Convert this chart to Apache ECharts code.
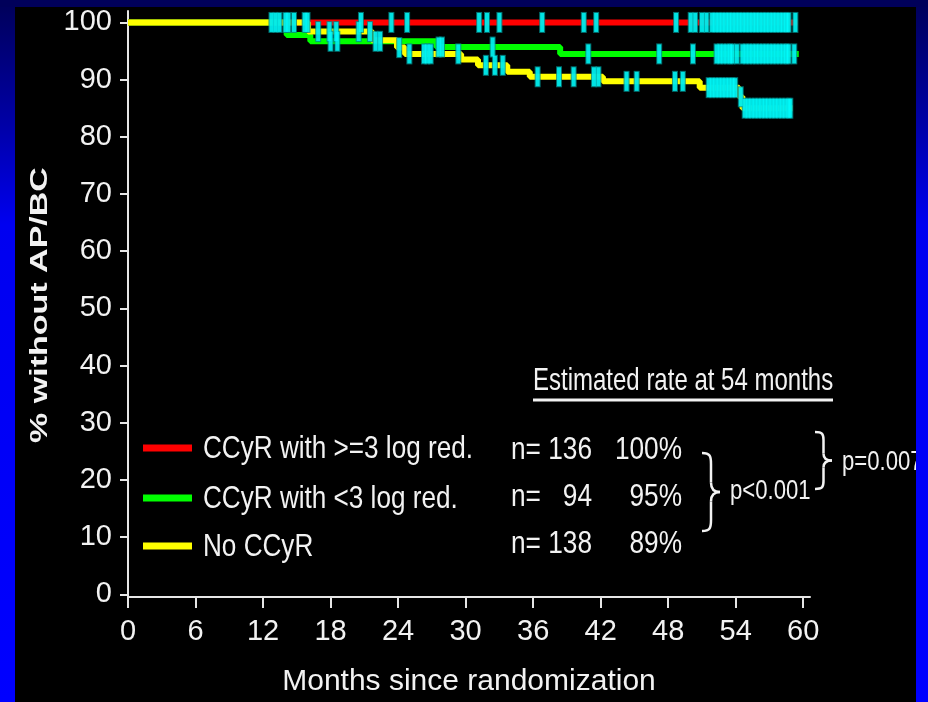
<!DOCTYPE html>
<html>
<head>
<meta charset="utf-8">
<style>
  html, body { margin: 0; padding: 0; background: #000; }
  #chart { width: 928px; height: 702px; }
</style>
<script src="https://cdn.jsdelivr.net/npm/echarts@6/dist/echarts.min.js"></script>
</head>
<body>
<div id="chart"></div>
<script>
// ---------- data ----------
const seriesNames = ['CCyR with >=3 log red.', 'CCyR with <3 log red.', 'No CCyR'];
const seriesColors = ['#ff0000', '#00ff00', '#ffff00'];
const xTicks = [0, 6, 12, 18, 24, 30, 36, 42, 48, 54, 60];
const yTicks = [0, 10, 20, 30, 40, 50, 60, 70, 80, 90, 100];

// Kaplan-Meier steps: [month, % without AP/BC from this month on]
const redSteps = [[0, 100], [59.5, 100]];
const greenSteps = [[0, 100], [14.1, 97.8], [16.2, 96.7], [27.4, 95.7], [38.4, 94.5], [59.6, 94.5]];
const yellowSteps = [[0, 100], [16.0, 98.4], [21.7, 96.9], [23.9, 95.6], [24.6, 94.5], [29.6, 93.5],
  [31.1, 92.5], [33.7, 91.4], [35.7, 90.5], [42.2, 89.7], [50.8, 88.6], [54.3, 87.0], [54.6, 85.0], [59.05, 85.0]];

// censored observations (months)
const redCensor = [20.7, 23.4, 24.8, 31.2, 31.9, 33.0, 36.8, 40.5, 41.6, 48.7, 50.0, 50.4, 51.0, 51.4,
  51.9, 52.2, 52.5, 52.8, 53.1, 53.4, 53.7, 54.0, 54.3, 54.6, 54.9, 55.2, 55.5, 55.8, 56.1, 56.4,
  56.7, 57.0, 57.3, 57.6, 57.9, 58.2, 58.5, 58.7, 59.3];
const greenCensor = [18.0, 18.6, 22.0, 22.4, 27.6, 27.9, 32.4, 40.9, 47.2, 50.2, 52.3, 52.6, 52.9,
  53.2, 53.5, 53.7, 54.1, 54.6, 54.9, 55.2, 55.5, 55.8, 56.1, 56.4, 56.7, 57.0, 57.3, 57.6, 57.9,
  58.2, 58.5, 58.7, 59.2];
const yellowCensor = [12.75, 13.1, 13.45, 14.0, 14.25, 14.75, 15.7, 15.95, 16.9, 17.9, 18.5, 20.5,
  21.5, 24.1, 25.0, 26.3, 26.6, 26.9, 29.35, 31.8, 32.6, 33.3, 36.4, 38.3, 39.6, 41.4, 41.8, 44.3,
  45.2, 48.6, 49.3, 51.6, 51.9, 52.2, 52.5, 52.8, 53.1, 53.4, 53.7, 53.95, 54.45, 54.8, 55.1, 55.4,
  55.7, 56.0, 56.3, 56.6, 56.9, 57.2, 57.5, 57.8, 58.1, 58.4, 58.7, 58.85];

const nLabels = ['n= 136', 'n=   94', 'n= 138'];
const rateLabels = ['100%', '95%', '89%'];
const tableTitle = 'Estimated rate at 54 months';
const pLabels = ['p<0.001', 'p=0.007'];
const yTitle = '% without AP/BC';
const xTitle = 'Months since randomization';

// ---------- helpers ----------
function valueAt(steps, t) {
  let v = steps[0][1];
  for (const s of steps) { if (s[0] <= t) v = s[1]; }
  return v;
}
const allMarks = []
  .concat(redCensor.map(t => [t, valueAt(redSteps, t)]))
  .concat(greenCensor.map(t => [t, valueAt(greenSteps, t)]))
  .concat(yellowCensor.map(t => [t, valueAt(yellowSteps, t)]));

const SANS = '"Liberation Sans", Arial, Helvetica, sans-serif';
const TXT = '#f2f2f2';
const AX = '#e6e6e6';

function txt(text, x, y, size, align, sx) {
  return { type: 'text', x: x, y: y, z: 10, silent: true, scaleX: sx || 0.82,
    style: { text: text, fill: TXT, fontSize: size, fontFamily: SANS, align: align || 'left', verticalAlign: 'middle' } };
}

function brace(x, y0, w, h) {
  const P = (a, b) => [x + w * a, y0 + h * b];
  const st = { stroke: TXT, lineWidth: 2.5, fill: null };
  const bz = (p1, c1, c2, p2) => ({ type: 'bezierCurve', z: 10, silent: true,
    shape: { x1: p1[0], y1: p1[1], cpx1: c1[0], cpy1: c1[1], cpx2: c2[0], cpy2: c2[1], x2: p2[0], y2: p2[1] }, style: st });
  const ln = (p1, p2) => ({ type: 'line', z: 10, silent: true,
    shape: { x1: p1[0], y1: p1[1], x2: p2[0], y2: p2[1] }, style: st });
  return [
    bz(P(0, 0), P(0.45, 0), P(0.5, 0.04), P(0.5, 0.14)),
    ln(P(0.5, 0.14), P(0.5, 0.38)),
    bz(P(0.5, 0.38), P(0.5, 0.46), P(0.65, 0.5), P(1, 0.5)),
    bz(P(1, 0.5), P(0.65, 0.5), P(0.5, 0.54), P(0.5, 0.62)),
    ln(P(0.5, 0.62), P(0.5, 0.86)),
    bz(P(0.5, 0.86), P(0.5, 0.96), P(0.45, 1), P(0, 1))
  ];
}

const legendRowsY = [448, 498, 546];
const legendEls = [];
seriesNames.forEach((n, i) => {
  legendEls.push({ type: 'rect', z: 10, silent: true,
    shape: { x: 143, y: legendRowsY[i] - 3.5, width: 49, height: 7 }, style: { fill: seriesColors[i] } });
  legendEls.push(txt(n, 203, legendRowsY[i] + 1, 32, 'left', 0.816));
});

const chart = echarts.init(document.getElementById('chart'), null, { renderer: 'canvas' });
const sideGrad = { type: 'linear', x: 0, y: 0, x2: 0, y2: 1, colorStops: [
  { offset: 0, color: '#000058' }, { offset: 0.18, color: '#0000a8' },
  { offset: 0.32, color: '#0000f0' }, { offset: 1, color: '#0000ff' }] };

chart.setOption({
  animation: false,
  backgroundColor: '#000000',
  grid: { left: 128, top: 11, right: 118, bottom: 103.6, containLabel: false },
  xAxis: {
    type: 'value', min: 0, max: 60.6,
    name: xTitle, nameLocation: 'middle', nameGap: 70,
    nameTextStyle: { color: TXT, fontSize: 30, fontFamily: SANS },
    axisLine: { show: true, onZero: false, lineStyle: { color: AX, width: 2 } },
    axisTick: { show: true, length: 11, lineStyle: { color: AX, width: 2 }, customValues: xTicks },
    axisLabel: { color: TXT, fontSize: 29, fontFamily: SANS, margin: 20, customValues: xTicks },
    splitLine: { show: false }
  },
  yAxis: {
    type: 'value', min: -0.45, max: 102,
    axisLine: { show: true, lineStyle: { color: AX, width: 2 } },
    axisTick: { show: true, length: 8, lineStyle: { color: AX, width: 2 }, customValues: yTicks },
    axisLabel: { color: TXT, fontSize: 29, fontFamily: SANS, margin: 16, customValues: yTicks },
    splitLine: { show: false }
  },
  series: [
    { name: seriesNames[0], type: 'line', step: 'end', data: redSteps, symbol: 'none', z: 2,
      lineStyle: { color: seriesColors[0], width: 6 }, itemStyle: { color: seriesColors[0] } },
    { name: seriesNames[1], type: 'line', step: 'end', data: greenSteps, symbol: 'none', z: 3,
      lineStyle: { color: seriesColors[1], width: 6 }, itemStyle: { color: seriesColors[1] } },
    { name: seriesNames[2], type: 'line', step: 'end', data: yellowSteps, symbol: 'none', z: 4,
      lineStyle: { color: seriesColors[2], width: 6 }, itemStyle: { color: seriesColors[2] } },
    { name: 'censored-outline', type: 'scatter', data: allMarks, symbol: 'rect', symbolSize: [6, 21],
      itemStyle: { color: '#008a8a' }, z: 5, silent: true },
    { name: 'censored', type: 'scatter', data: allMarks, symbol: 'rect', symbolSize: [4, 19],
      itemStyle: { color: '#00ffff' }, z: 6, silent: true }
  ],
  graphic: [
    { type: 'text', x: 40, y: 305, rotation: Math.PI / 2, scaleY: 0.72, z: 10, silent: true,
      style: { text: yTitle, fill: TXT, fontSize: 34, fontWeight: 'bold',
        fontFamily: SANS, align: 'center', verticalAlign: 'middle' } },
    txt(tableTitle, 533, 381, 32, 'left', 0.75),
    { type: 'line', z: 10, silent: true, shape: { x1: 533, y1: 400, x2: 833, y2: 400 },
      style: { stroke: TXT, lineWidth: 3 } },
    txt(nLabels[0], 511, 450, 32), txt(nLabels[1], 511, 497, 32), txt(nLabels[2], 511, 544, 32),
    txt(rateLabels[0], 682, 450, 32, 'right'), txt(rateLabels[1], 682, 497, 32, 'right'),
    txt(rateLabels[2], 682, 544, 32, 'right'),
    txt(pLabels[0], 730, 492, 27), txt(pLabels[1], 842, 463, 27)
  ].concat(legendEls, brace(702, 453, 18, 78), brace(815, 432, 17, 57), [
    // blue slide frame
    { type: 'rect', z: 100, silent: true, shape: { x: 0, y: 0, width: 15, height: 702 }, style: { fill: sideGrad } },
    { type: 'rect', z: 100, silent: true, shape: { x: 916, y: 0, width: 12, height: 702 }, style: { fill: sideGrad } },
    { type: 'rect', z: 100, silent: true, shape: { x: 0, y: 0, width: 928, height: 7 }, style: { fill: '#00005a' } }
  ])
});
</script>
</body>
</html>
